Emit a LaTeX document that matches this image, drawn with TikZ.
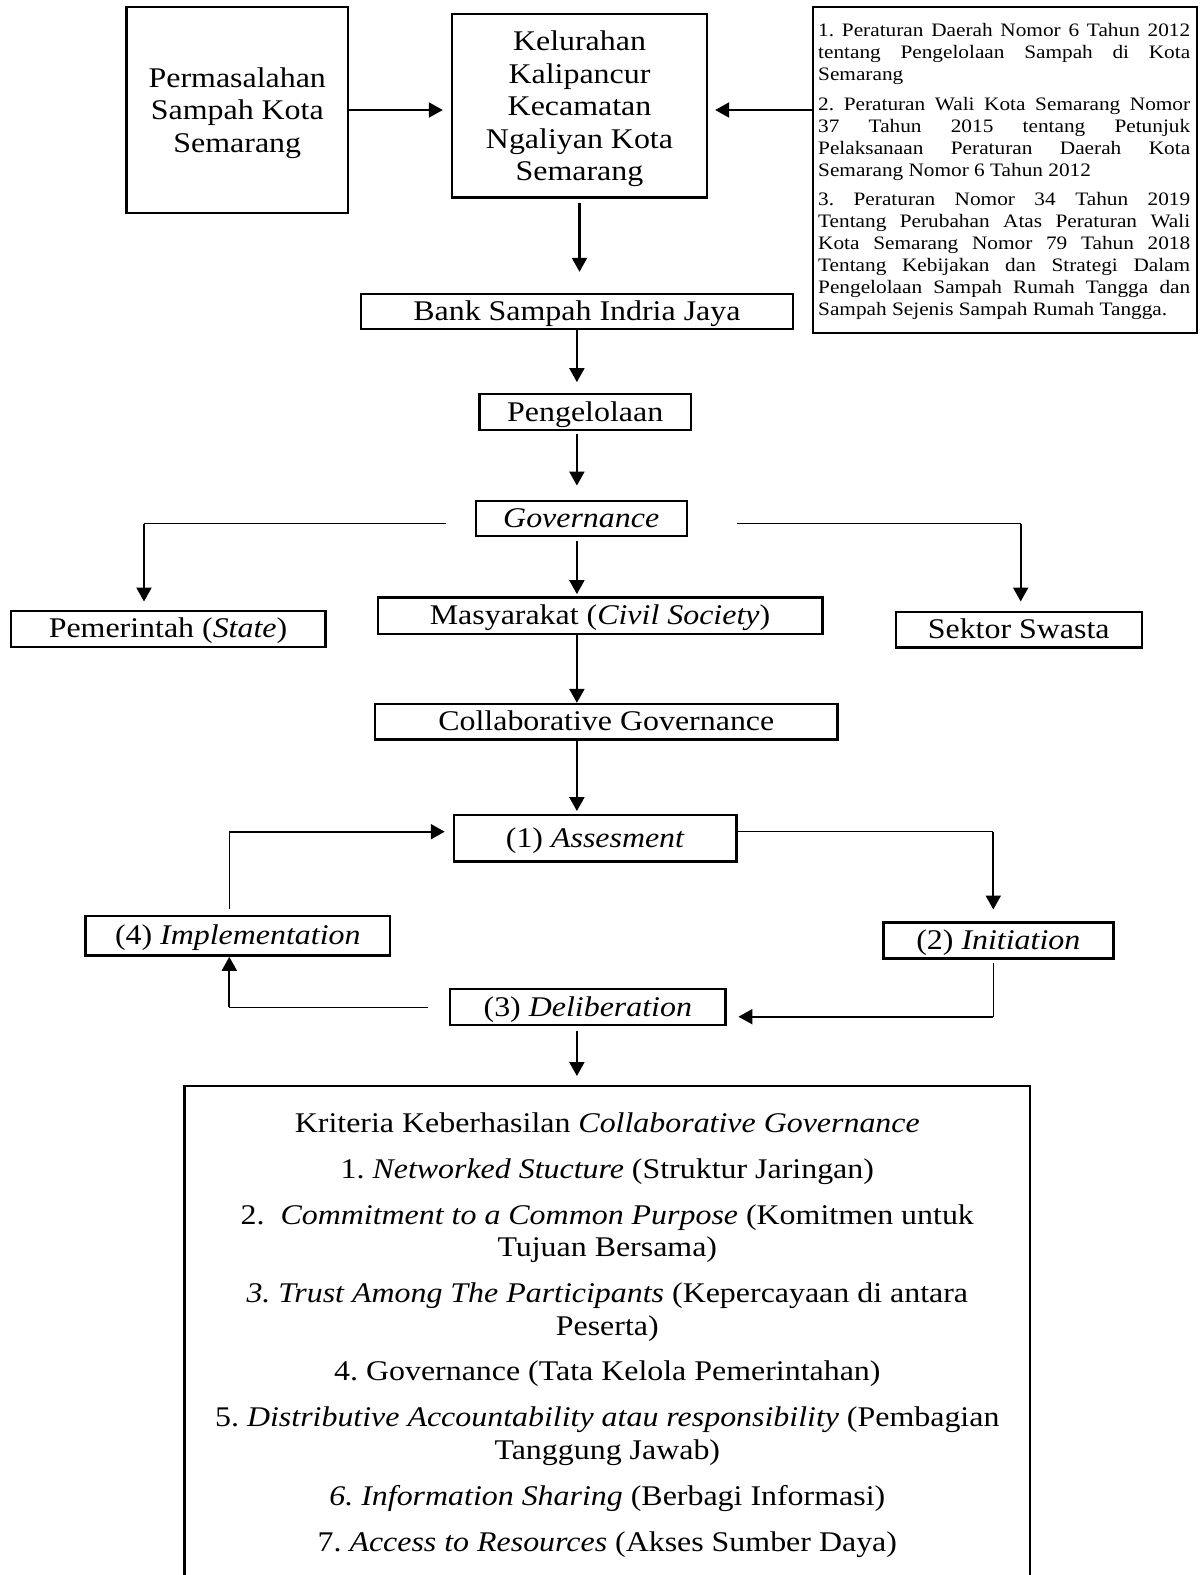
\documentclass[tikz,border=0pt]{standalone}
\usepackage{fontspec}
\setmainfont{Liberation Serif}[FakeStretch=1.12]
\usetikzlibrary{arrows.meta}
\newcommand\fbig{\fontsize{28.5pt}{32.6pt}\selectfont}
\newcommand\fsmall{\fontsize{19pt}{22pt}\selectfont}
\frenchspacing
\begin{document}
\begin{tikzpicture}[x=1pt,y=-1pt,
  box/.style={draw, line width=2.4pt, inner sep=0pt, font=\fbig, text height=21.4pt, text depth=3.4pt},
  mbox/.style={draw, line width=2.4pt, inner sep=0pt, font=\fbig, align=center},
  arr/.style={line width=2.2pt, -{Triangle[length=14pt,width=15pt]}},
  thinline/.style={line width=1.2pt},
  critline/.style={font=\fbig, anchor=base, inner sep=0pt},
  regline/.style={font=\fsmall, anchor=base west, inner sep=0pt}]
\useasboundingbox (0,0) rectangle (1200,1575);
\fill[white] (0,0) rectangle (1200,1575);

% top row
\node[mbox, minimum width=221.5pt, minimum height=206pt] (perm) at (237.3,110) {\rule{0pt}{26pt}Permasalahan\\Sampah Kota\\Semarang};
\node[mbox, minimum width=255pt, minimum height=183.5pt] (kel) at (579.5,105.75) {\rule{0pt}{26pt}Kelurahan\\Kalipancur\\Kecamatan\\Ngaliyan Kota\\Semarang};
\node[draw, line width=2.4pt, minimum width=384pt, minimum height=326pt, inner sep=0pt] (regs) at (1005,170) {};
\node[regline] (r1) at (818,36) {\makebox[372pt][s]{1. Peraturan Daerah Nomor 6 Tahun 2012}};
\node[regline] (r2) at (818,58) {\makebox[372pt][s]{tentang Pengelolaan Sampah di Kota}};
\node[regline] (r3) at (818,80) {Semarang};
\node[regline] (r4) at (818,110) {\makebox[372pt][s]{2. Peraturan Wali Kota Semarang Nomor}};
\node[regline] (r5) at (818,132) {\makebox[372pt][s]{37 Tahun 2015 tentang Petunjuk}};
\node[regline] (r6) at (818,154) {\makebox[372pt][s]{Pelaksanaan Peraturan Daerah Kota}};
\node[regline] (r7) at (818,176) {Semarang Nomor 6 Tahun 2012};
\node[regline] (r8) at (818,205.5) {\makebox[372pt][s]{3. Peraturan Nomor 34 Tahun 2019}};
\node[regline] (r9) at (818,227.5) {\makebox[372pt][s]{Tentang Perubahan Atas Peraturan Wali}};
\node[regline] (r10) at (818,249.5) {\makebox[372pt][s]{Kota Semarang Nomor 79 Tahun 2018}};
\node[regline] (r11) at (818,271.5) {\makebox[372pt][s]{Tentang Kebijakan dan Strategi Dalam}};
\node[regline] (r12) at (818,293.5) {\makebox[372pt][s]{Pengelolaan Sampah Rumah Tangga dan}};
\node[regline] (r13) at (818,315.5) {Sampah Sejenis Sampah Rumah Tangga.};

% chain
\node[box, minimum width=432.3pt, minimum height=35pt] (bank) at (576.9,311.5) {Bank Sampah Indria Jaya};
\node[box, minimum width=211.7pt, minimum height=36pt] (peng) at (585.2,412) {Pengelolaan};
\node[box, minimum width=211pt, minimum height=35.3pt] (gov) at (581.2,518.4) {\textit{Governance}};
\node[box, minimum width=314.6pt, minimum height=36pt] (pem) at (168,628.7) {Pemerintah (\textit{State})};
\node[box, minimum width=444.6pt, minimum height=36.4pt] (masy) at (600,615.5) {Masyarakat (\textit{Civil Society})};
\node[box, minimum width=246pt, minimum height=35.6pt] (sek) at (1018.7,629.5) {Sektor Swasta};
\node[box, minimum width=462.7pt, minimum height=35.3pt] (collab) at (606.3,721.7) {Collaborative Governance};
\node[box, minimum width=282.7pt, minimum height=46.5pt] (ass) at (595.3,838.2) {(1) \textit{Assesment}};
\node[box, minimum width=304.3pt, minimum height=39.7pt] (impl) at (237.8,935.8) {(4) \textit{Implementation}};
\node[box, minimum width=230pt, minimum height=36pt] (init) at (998.3,940.3) {(2) \textit{Initiation}};
\node[box, minimum width=275.7pt, minimum height=36pt] (delib) at (587.8,1007) {(3) \textit{Deliberation}};
\node[draw, line width=2.4pt, minimum width=845.3pt, minimum height=530pt, inner sep=0pt, anchor=north] (crit) at (607.3,1085) {};

\node[critline] (k0) at (607.3,1132.7) {Kriteria Keberhasilan \textit{Collaborative Governance}};
\node[critline] (k1) at (607.3,1178.3) {1. \textit{Networked Stucture} (Struktur Jaringan)};
\node[critline] (k2a) at (607.3,1224) {2.\ \ \textit{Commitment to a Common Purpose} (Komitmen untuk};
\node[critline] (k2b) at (607.3,1256.7) {Tujuan Bersama)};
\node[critline] (k3a) at (607.3,1302.7) {\textit{3. Trust Among The Participants} (Kepercayaan di antara};
\node[critline] (k3b) at (607.3,1335) {Peserta)};
\node[critline] (k4) at (607.3,1380) {4. Governance (Tata Kelola Pemerintahan)};
\node[critline] (k5a) at (607.3,1426.7) {5. \textit{Distributive Accountability atau responsibility} (Pembagian};
\node[critline] (k5b) at (607.3,1459.3) {Tanggung Jawab)};
\node[critline] (k6) at (607.3,1505) {\textit{6. Information Sharing} (Berbagi Informasi)};
\node[critline] (k7) at (607.3,1551.7) {7. \textit{Access to Resources} (Akses Sumber Daya)};

% connectors
\draw[arr, shorten >=8pt] (perm.east) -- (perm.east -| kel.west);
\draw[arr, shorten >=7pt] (regs.west |- perm.east) -- (kel.east |- perm.east);
\draw[arr, shorten <=4pt, shorten >=21pt] (kel.south) -- (kel.south |- bank.north);
\draw[arr, shorten >=10.7pt] (bank.south) -- (bank.south |- peng.north);
\draw[arr, shorten <=2.7pt, shorten >=14pt] (bank.south |- peng.south) -- (bank.south |- gov.north);
\draw[arr, shorten <=4pt, shorten >=2pt] (bank.south |- gov.south) -- (bank.south |- masy.north);

\coordinate (cL) at (144,523.7);
\coordinate (gL) at ([xshift=-29pt]gov.west);
\draw[thinline] (gL |- cL) -- (cL);
\draw[arr, shorten >=8pt] (cL) -- (cL |- pem.north);
\coordinate (cR) at (1020.7,523.7);
\coordinate (gR) at ([xshift=49.3pt]gov.east);
\draw[thinline] (gR |- cR) -- (cR);
\draw[arr, shorten >=9pt] (cR) -- (cR |- sek.north);

\draw[arr] (bank.south |- masy.south) -- (bank.south |- collab.north);
\draw[arr, shorten >=2.7pt] (bank.south |- collab.south) -- (bank.south |- ass.north);

\coordinate (c1) at (993.3,831.7);
\draw[thinline] (ass.east |- c1) -- (c1);
\draw[arr, shorten >=11.6pt] (c1) -- (c1 |- init.north);
\coordinate (c2) at (993.3,1016.7);
\draw[thinline, shorten <=3.4pt] (c2 |- init.south) -- (c2);
\draw[arr, shorten >=11.6pt] (c2) -- (delib.east |- c2);
\coordinate (c3) at (229.3,1007.3);
\draw[thinline, shorten <=20.7pt] (delib.west |- c3) -- (c3);
\draw[arr] (c3) -- (c3 |- impl.south);
\coordinate (c4) at (229.3,831.7);
\draw[thinline, shorten <=5.3pt] (c4 |- impl.north) -- (c4);
\draw[arr, shorten >=8pt] (c4) -- (ass.west |- c4);
\draw[arr, shorten <=5pt, shorten >=9pt] (bank.south |- delib.south) -- (bank.south |- crit.north);
\end{tikzpicture}
\end{document}
